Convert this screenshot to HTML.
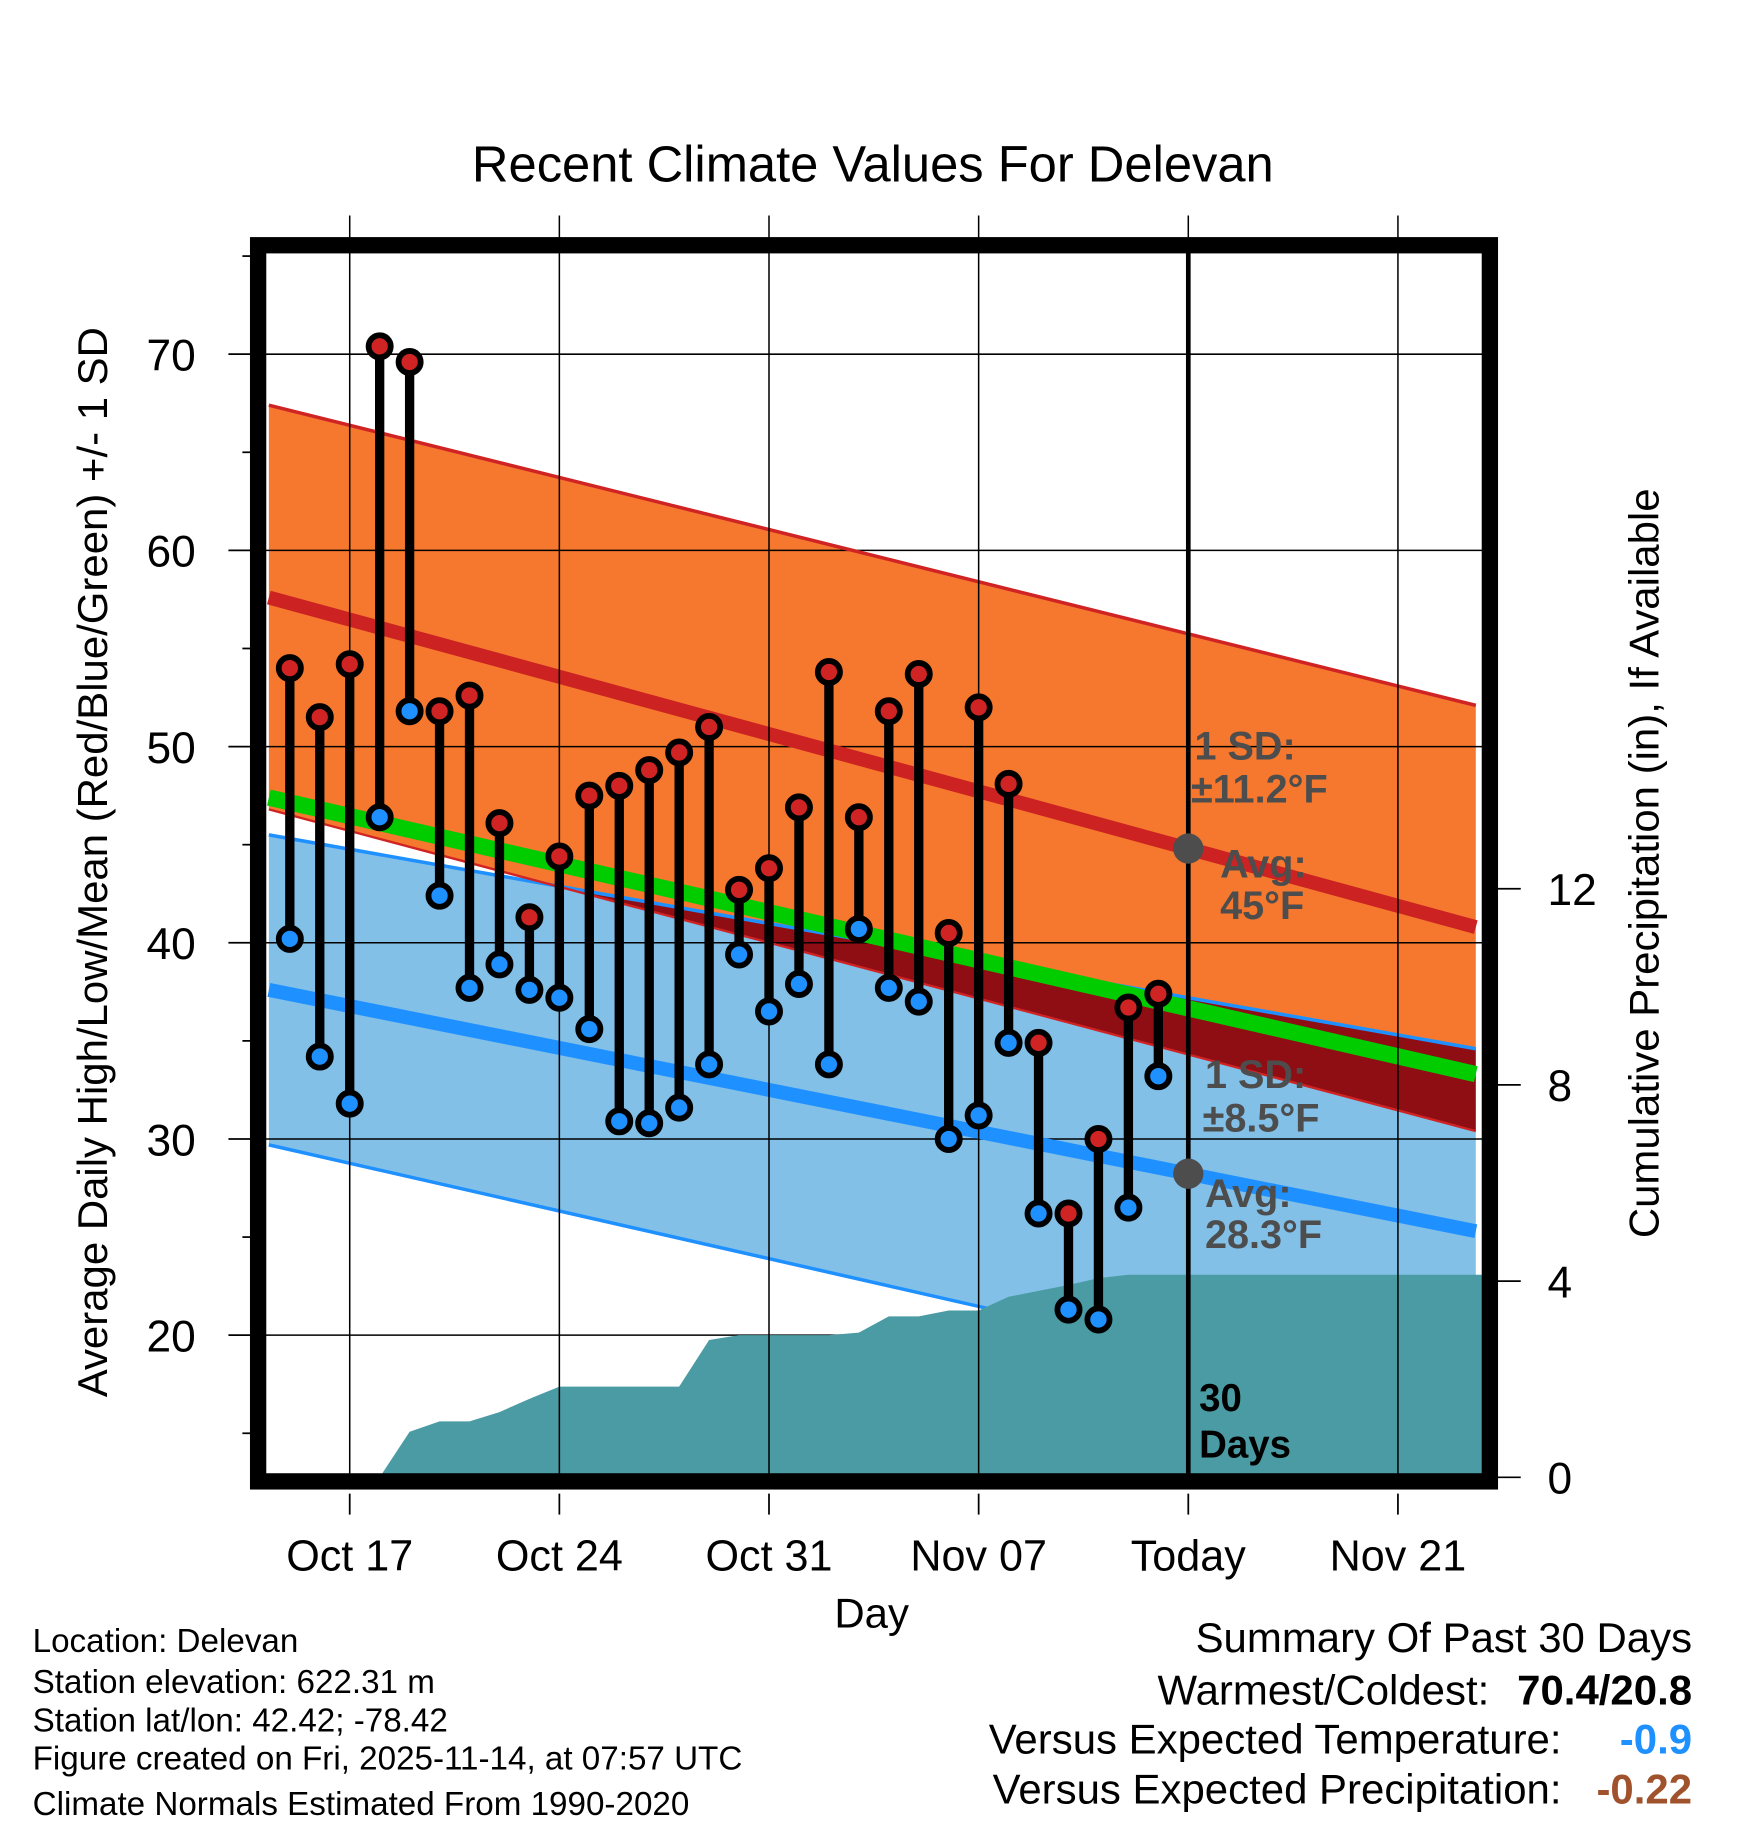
<!DOCTYPE html>
<html><head><meta charset="utf-8"><style>
html,body{margin:0;padding:0;background:#fff;}
svg{display:block;}
text{font-family:"Liberation Sans",sans-serif;}
</style></head><body>
<svg id="chart" width="1748" height="1828" viewBox="0 0 1500 1569" preserveAspectRatio="none" xmlns="http://www.w3.org/2000/svg">
<defs><clipPath id="plotclip"><rect x="225" y="214" width="1050" height="1054"/></clipPath>
<clipPath id="orangeclip"><polygon id="orangeClipPoly" points=""/></clipPath></defs>
<g id="plot" clip-path="url(#plotclip)"></g>
<g id="over"></g>
</svg>
<script>
// ---- data ----
const dayOffsets = [1,2,3,4,5,6,7,8,9,10,11,12,13,14,15,16,17,18,19,20,21,22,23,24,25,26,27,28,29,30]; // days after Oct 14
const highs = [54.0,51.5,54.2,70.4,69.6,51.8,52.6,46.1,41.3,44.4,47.5,48.0,48.8,49.7,51.0,42.7,43.8,46.9,53.8,46.4,51.8,53.7,40.5,52.0,48.1,34.9,26.2,30.0,36.7,37.4];
const lows = [40.2,34.2,31.8,46.4,51.8,42.4,37.7,38.9,37.6,37.2,35.6,30.9,30.8,31.6,33.8,39.4,36.5,37.9,33.8,40.7,37.7,37.0,30.0,31.2,34.9,26.2,21.3,20.8,26.5,33.2];
const precipDays = [4,5,6,7,8,9,10,11,12,13,14,15,16,17,18,19,20,21,22,23,24,25,26,27,28,29,30,31,41];
const precipCum = [0,0.93,1.14,1.14,1.33,1.6,1.85,1.85,1.85,1.85,1.85,2.8,2.9,2.9,2.9,2.9,2.95,3.28,3.28,3.4,3.4,3.68,3.8,3.92,4.06,4.13,4.13,4.13,4.13];
const normDays = [0.3,40.6];
const highAvg = [57.6,40.8];
const highUpper = [67.4,52.1];
const highLower = [46.8,30.4];
const lowAvg = [37.6,25.3];
const lowUpper = [45.5,34.6];
const lowLower = [29.7,15.7];
const meanAvg = [47.4,33.3];
const yTicks = [20,30,40,50,60,70];
const precipTicks = [0,4,8,12];
const xTickDays = [3,10,17,24,31,38];
const xTickLabels = ["Oct 17","Oct 24","Oct 31","Nov 07","Today","Nov 21"];
const todayDay = 31;

// ---- axes ----
const X = d => 223 + d*25.7;
const Y = v => 304 + (70 - v)*16.84;
const P = p => 1268 - p*42.1;
const NS = "http://www.w3.org/2000/svg";
const plot = document.getElementById('plot');
const over = document.getElementById('over');
function mk(tag, attrs, parent){const e=document.createElementNS(NS,tag);for(const k in attrs)e.setAttribute(k,attrs[k]);parent.appendChild(e);return e;}
function seg(arr){return normDays.map((d,i)=>[X(d),Y(arr[i])]);}
function pts(a){return a.map(p=>p.join(',')).join(' ');}

const hiTop=seg(highUpper), hiBot=seg(highLower);
const loTop=seg(lowUpper), loBot=seg(lowLower);
const orangePts = pts(hiTop.concat(hiBot.slice().reverse()));
const bluePts = pts(loTop.concat(loBot.slice().reverse()));
document.getElementById('orangeClipPoly').setAttribute('points', orangePts);

let e;
e=mk('polygon',{points:bluePts,fill:'#82c0e8'},plot);


e=mk('polygon',{points:orangePts,fill:'#f5782e'},plot);


e=mk('polygon',{points:bluePts,fill:'#8e0e14','clip-path':'url(#orangeclip)'},plot);



// grid
yTicks.forEach(v=>{e=mk('line',{x1:225,x2:1275,y1:Y(v),y2:Y(v),stroke:'#000','stroke-width':1.3},plot);

});
xTickDays.forEach(d=>{e=mk('line',{x1:X(d),x2:X(d),y1:185,y2:1268,stroke:'#000','stroke-width':1.3},over);

});

// normal lines
e=mk('polyline',{points:pts(hiTop),stroke:'#d02424','stroke-width':3,fill:'none'},plot);


e=mk('polyline',{points:pts(loTop),stroke:'#1e90ff','stroke-width':3,fill:'none'},plot);


e=mk('polyline',{points:pts(loBot),stroke:'#1e90ff','stroke-width':3,fill:'none'},plot);


e=mk('polyline',{points:pts(hiBot),stroke:'#d02424','stroke-width':2,fill:'none'},plot);


e=mk('polyline',{points:pts(seg(highAvg)),stroke:'#cc2222','stroke-width':12,fill:'none'},plot);


e=mk('polyline',{points:pts(seg(lowAvg)),stroke:'#1e90ff','stroke-width':12,fill:'none'},plot);


e=mk('polyline',{points:pts(seg(meanAvg)),stroke:'#00cc00','stroke-width':14,fill:'none'},plot);



// precip
const pp=[[X(precipDays[0]),P(0)]];
precipDays.forEach((d,i)=>pp.push([X(d),P(precipCum[i])]));
pp.push([X(precipDays[precipDays.length-1]),P(0)]);
e=mk('polygon',{points:pts(pp),fill:'#4a9ba3'},plot);



// today line
e=mk('line',{x1:X(todayDay),x2:X(todayDay),y1:214,y2:1268,stroke:'#000','stroke-width':4},over);



// daily bars
dayOffsets.forEach((d,i)=>{
  const x=X(d);
  e=mk('line',{x1:x,x2:x,y1:Y(highs[i]),y2:Y(lows[i]),stroke:'#000','stroke-width':8},over);
  
  
});
dayOffsets.forEach((d,i)=>{
  const x=X(d);
  e=mk('circle',{cx:x,cy:Y(highs[i]),r:9.5,fill:'#d02424',stroke:'#000','stroke-width':5},over);
  
  
  e=mk('circle',{cx:x,cy:Y(lows[i]),r:9.5,fill:'#1e90ff',stroke:'#000','stroke-width':5},over);
  
  
});

// today markers
const tHi = highAvg[0]+(highAvg[1]-highAvg[0])*(todayDay-normDays[0])/(normDays[1]-normDays[0]);
const tLo = lowAvg[0]+(lowAvg[1]-lowAvg[0])*(todayDay-normDays[0])/(normDays[1]-normDays[0]);
e=mk('circle',{cx:X(todayDay),cy:Y(tHi),r:13,fill:'#4d4d4d'},over);


e=mk('circle',{cx:X(todayDay),cy:Y(tLo),r:13,fill:'#4d4d4d'},over);



// frame
e=mk('rect',{x:221.5,y:210.5,width:1057,height:1061,fill:'none',stroke:'#000','stroke-width':14},over);



// left ticks
for(let v=15;v<=75;v+=5){
  const major=v%10===0;
  e=mk('line',{x1:major?196:208,x2:218,y1:Y(v),y2:Y(v),stroke:'#000','stroke-width':1.5},over);
  
  
}
yTicks.forEach(v=>{e=mk('text',{x:168,y:Y(v)+14,'font-size':38,'text-anchor':'end'},over);e.textContent=v;

});
precipTicks.forEach(p=>{
  e=mk('line',{x1:1282,x2:1305,y1:P(p),y2:P(p),stroke:'#000','stroke-width':1.5},over);
  
  
  e=mk('text',{x:1328,y:P(p)+14,'font-size':38,'text-anchor':'start'},over);e.textContent=p;
  
  
});
xTickDays.forEach((d,i)=>{
  e=mk('line',{x1:X(d),x2:X(d),y1:1282,y2:1300,stroke:'#000','stroke-width':1.5},over);
  
  
  e=mk('text',{x:X(d),y:1348,'font-size':37,'text-anchor':'middle'},over);e.textContent=xTickLabels[i];
  
  
});
</script>
<svg style="position:absolute;left:0;top:0" width="1748" height="1828" viewBox="0 0 1500 1569" preserveAspectRatio="none" xmlns="http://www.w3.org/2000/svg">
<text x="749" y="156" font-size="43.5" text-anchor="middle" font-family="Liberation Sans">Recent Climate Values For Delevan</text>
<text transform="translate(92,740) rotate(-90)" font-size="36" text-anchor="middle" font-family="Liberation Sans">Average Daily High/Low/Mean (Red/Blue/Green) +/- 1 SD</text>
<text transform="translate(1423,741) rotate(-90)" font-size="36" text-anchor="middle" font-family="Liberation Sans">Cumulative Precipitation (in), If Available</text>
<text x="748" y="1397" font-size="36" text-anchor="middle" font-family="Liberation Sans">Day</text>
<g font-family="Liberation Sans" font-weight="bold" font-size="34" fill="#4d4d4d">
<text x="1025" y="652">1 SD:</text><text x="1022" y="689">±11.2°F</text>
<text x="1047" y="753">Avg:</text><text x="1047" y="789">45°F</text>
<text x="1034" y="934">1 SD:</text><text x="1032" y="971">±8.5°F</text>
<text x="1034" y="1036">Avg:</text><text x="1034" y="1071">28.3°F</text>
</g>
<g font-family="Liberation Sans" font-weight="bold" font-size="33" fill="#000">
<text x="1029" y="1211">30</text><text x="1029" y="1251">Days</text></g>
<g font-family="Liberation Sans" font-size="28.5" fill="#000">
<text x="28" y="1418">Location: Delevan</text>
<text x="28" y="1453">Station elevation: 622.31 m</text>
<text x="28" y="1486">Station lat/lon: 42.42; -78.42</text>
<text x="28" y="1519">Figure created on Fri, 2025-11-14, at 07:57 UTC</text>
<text x="28" y="1558">Climate Normals Estimated From 1990-2020</text></g>
<g font-family="Liberation Sans" font-size="36" fill="#000">
<text x="1452" y="1418" text-anchor="end">Summary Of Past 30 Days</text>
<text x="1278" y="1463" text-anchor="end">Warmest/Coldest:</text>
<text x="1452" y="1463" text-anchor="end" font-weight="bold">70.4/20.8</text>
<text x="1340" y="1505" text-anchor="end">Versus Expected Temperature:</text>
<text x="1452" y="1505" text-anchor="end" font-weight="bold" fill="#1e90ff">-0.9</text>
<text x="1340" y="1548" text-anchor="end">Versus Expected Precipitation:</text>
<text x="1452" y="1548" text-anchor="end" font-weight="bold" fill="#a0522d">-0.22</text></g>
</svg>
</body></html>
